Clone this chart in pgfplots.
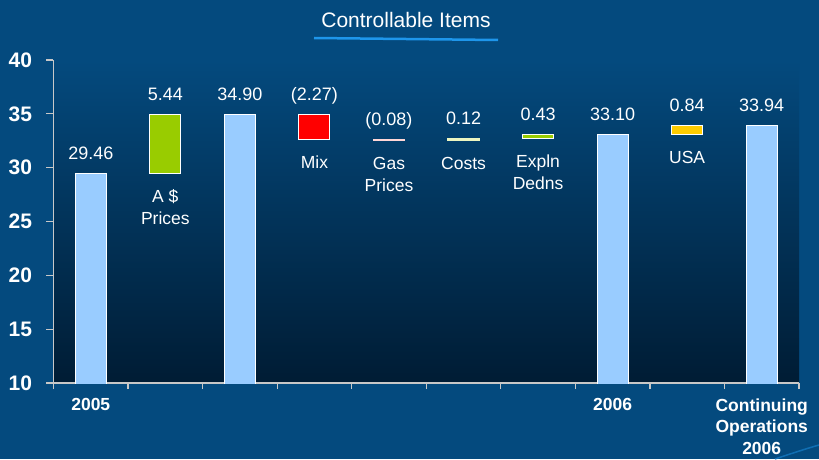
\documentclass[border=0pt]{standalone}
\usepackage{pgfplots}
\pgfplotsset{compat=1.18}
\usepackage{fontspec}
\setmainfont{Liberation Sans}
\definecolor{bg}{RGB}{4,74,126}
\definecolor{bgdark}{RGB}{0,28,52}
\definecolor{barblue}{RGB}{153,204,255}
\definecolor{bargreen}{RGB}{153,204,0}
\definecolor{barred}{RGB}{255,0,0}
\definecolor{barpink}{RGB}{255,153,153}
\definecolor{barcost}{RGB}{225,238,150}
\definecolor{bargold}{RGB}{255,204,0}
\definecolor{axgray}{RGB}{200,200,200}
\definecolor{ulblue}{RGB}{30,150,235}
\tikzset{
  val/.style={anchor=base, yshift=14pt, text=white, font=\fontsize{18}{22}\selectfont, inner sep=0pt},
  cat/.style={anchor=base, yshift=-29pt, text=white, align=center, font=\fontsize{17.5}{22}\selectfont, inner sep=0pt},
  cattwo/.style={cat, yshift=-22pt},
}
\begin{document}
\begin{tikzpicture}[x=1pt,y=1pt]
\useasboundingbox (0,0) rectangle (819,459);
\fill[bg] (0,0) rectangle (819,459);
\node[text=white, font=\fontsize{21}{24}\selectfont] at (406,439) {Controllable Items};
\draw[ulblue, line width=2.5pt] (314,421) -- (498,419);
\draw[ulblue!60!bg, line width=1.5pt, opacity=0.8] (775,0) .. controls (790,5) and (805,10) .. (819,14);
\begin{axis}[
  at={(53.5pt,76pt)}, anchor=south west, scale only axis,
  width=745.5pt, height=323pt,
  ymin=10, ymax=40, xmin=-0.5, xmax=9.5,
  ybar stacked, bar width=31pt,
  axis x line*=bottom, axis y line*=left,
  axis line style={axgray, line width=1.2pt},
  axis background/.style={top color=bg, bottom color=bgdark},
  ytick={10,15,...,40},
  minor ytick={},
  tick align=outside,
  major tick length=7pt,
  minor tick length=6pt,
  y tick style={axgray, line width=1.2pt},
  xtick={0,...,9},
  xticklabels={2005,,,,,,,2006,,{Continuing\\Operations\\2006}},
  major x tick style={draw=none},
  minor xtick={-0.5,0.5,...,9.5},
  minor x tick style={axgray, line width=1.2pt},
  /pgf/number format/assume math mode=true,
  yticklabel style={font=\bfseries\fontsize{21}{24}\selectfont, text=white, xshift=-11pt},
  xticklabel style={font=\bfseries\fontsize{17.5}{21.5}\selectfont, text=white, align=center, yshift=-5pt},
]
\addplot[draw=none, fill=none] coordinates {(0,0) (1,29.46) (2,0) (3,32.63) (4,32.55) (5,32.55) (6,32.67) (7,0) (8,33.10) (9,0)};
\addplot[fill=barblue, draw=white, line width=0.9pt] coordinates {(0,29.46) (1,0) (2,34.90) (3,0) (4,0) (5,0) (6,0) (7,33.10) (8,0) (9,33.94)};
\addplot[fill=bargreen, draw=white, line width=0.9pt] coordinates {(0,0) (1,5.44) (2,0) (3,0) (4,0) (5,0) (6,0.43) (7,0) (8,0) (9,0)};
\addplot[fill=barred, draw=white, line width=0.9pt] coordinates {(0,0) (1,0) (2,0) (3,2.27) (4,0) (5,0) (6,0) (7,0) (8,0) (9,0)};
\addplot[fill=barpink, draw=barpink!40!white, line width=1.6pt] coordinates {(0,0) (1,0) (2,0) (3,0) (4,0.08) (5,0) (6,0) (7,0) (8,0) (9,0)};
\addplot[fill=barcost, draw=barcost!60!white, line width=1.8pt] coordinates {(0,0) (1,0) (2,0) (3,0) (4,0) (5,0.12) (6,0) (7,0) (8,0) (9,0)};
\addplot[fill=bargold, draw=white, line width=0.9pt] coordinates {(0,0) (1,0) (2,0) (3,0) (4,0) (5,0) (6,0) (7,0) (8,0.84) (9,0)};
\node[val] at (axis cs:0,29.46) {29.46};
\node[val] at (axis cs:1,34.90) {5.44};
\node[val] at (axis cs:2,34.90) {34.90};
\node[val] at (axis cs:3,34.90) {(2.27)};
\node[val] at (axis cs:4,32.63) {(0.08)};
\node[val] at (axis cs:5,32.67) {0.12};
\node[val] at (axis cs:6,33.10) {0.43};
\node[val] at (axis cs:7,33.10) {33.10};
\node[val] at (axis cs:8,33.94) {0.84};
\node[val] at (axis cs:9,33.94) {33.94};
\node[cattwo] at (axis cs:1,29.46) {A \$\\Prices};
\node[cat] at (axis cs:3,32.63) {Mix};
\node[cattwo] at (axis cs:4,32.55) {Gas\\Prices};
\node[cat] at (axis cs:5,32.55) {Costs};
\node[cattwo] at (axis cs:6,32.67) {Expln\\Dedns};
\node[cat] at (axis cs:8,33.10) {USA};
\end{axis}
\end{tikzpicture}
\end{document}
